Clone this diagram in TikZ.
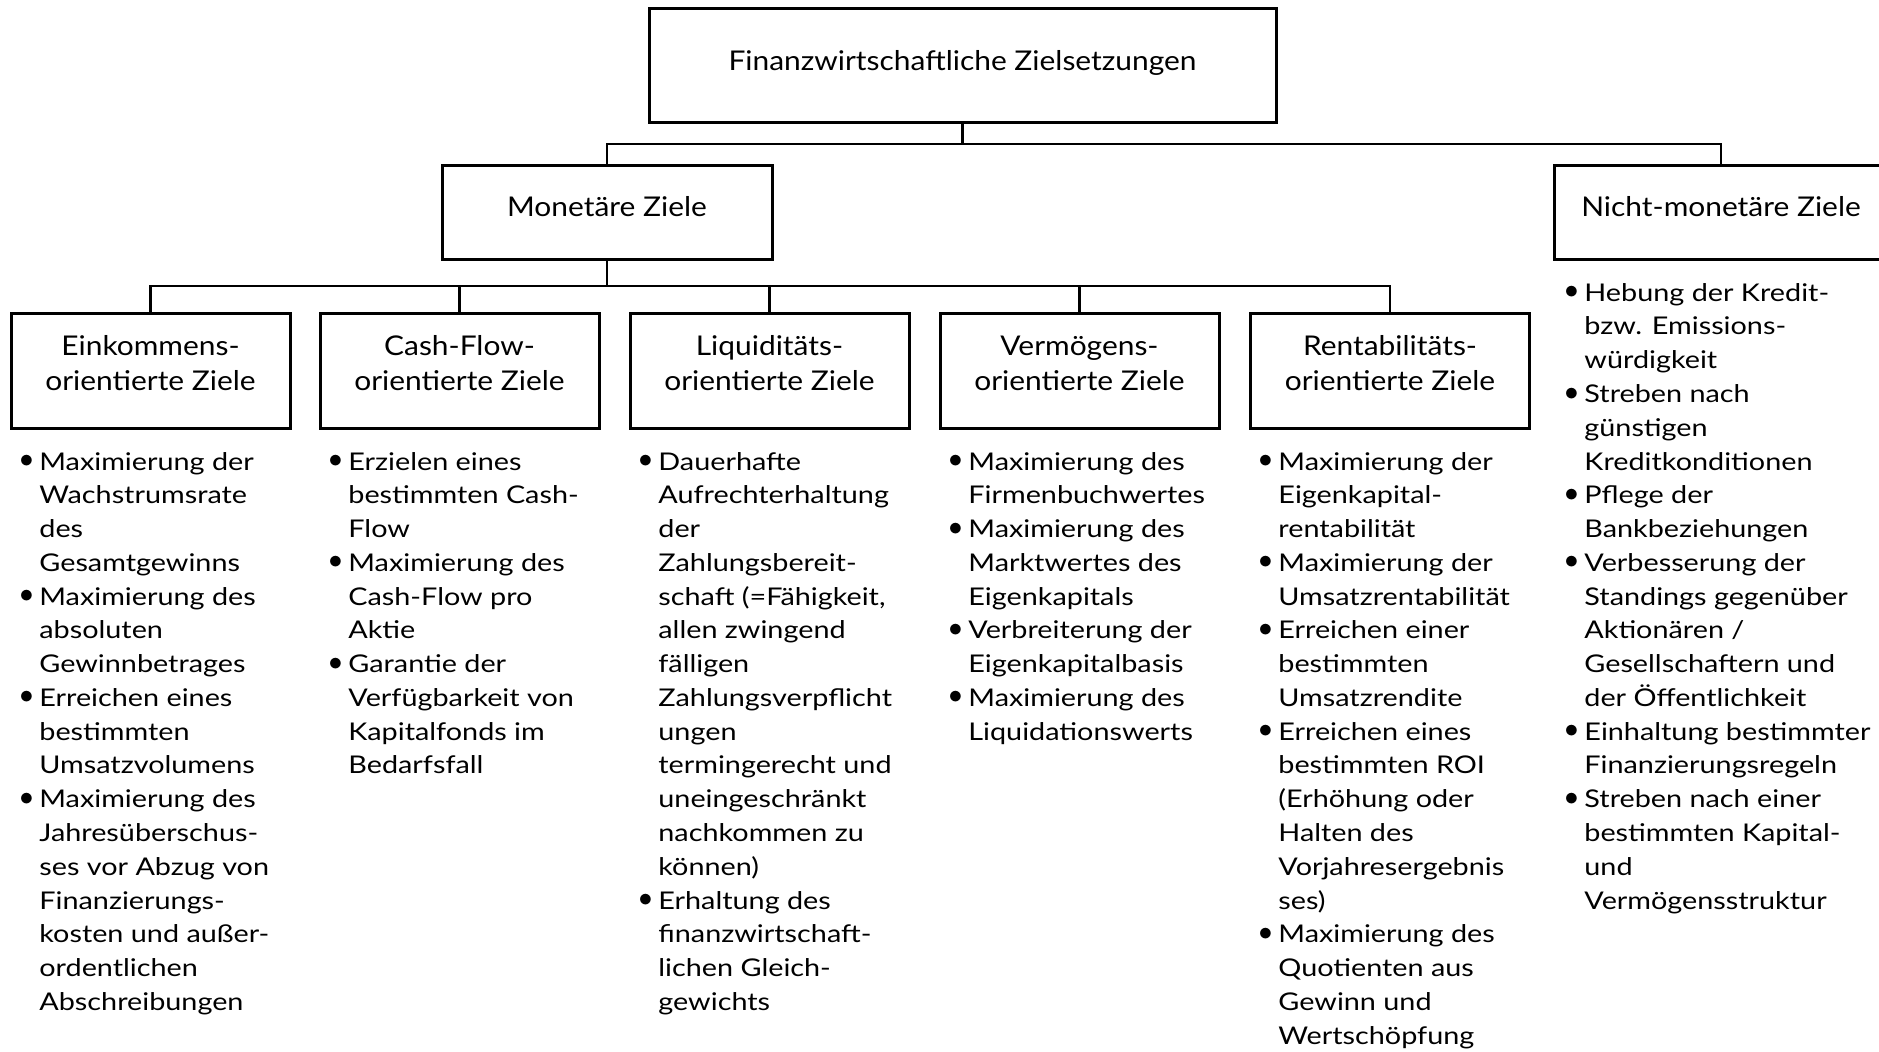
\documentclass[tikz,border=0pt]{standalone}
\usepackage{fontspec}
\setmainfont{Lato}[FakeStretch=1.18]
\newfontfamily\headfont{Lato}[FakeStretch=1.10]
% bullet hanging to the left of a list line
\newcommand\bl{\llap{\makebox[13pt][c]{\raisebox{0.2ex}{\scalebox{1.15}{$\bullet$}}}}}
% stacked lines, baseline of the node = baseline of the first line
\newcommand\leftlines[1]{\vtop{\baselineskip=16.885pt\lineskiplimit=-30pt\halign{##\hfil\cr#1\crcr}}}
\newcommand\ctrlines[1]{\vtop{\baselineskip=17.5pt\lineskiplimit=-30pt\halign{\hfil##\hfil\cr#1\crcr}}}
\begin{document}
\begin{tikzpicture}[x=0.5pt,y=-0.5pt,
  box/.style={draw=black, line width=1.5pt, inner sep=0pt},
  conn/.style={draw=black, line width=1.4pt},
  head/.style={anchor=base, inner sep=0pt, font=\headfont\fontsize{13.6pt}{17.5pt}\selectfont},
  list/.style={anchor=base west, inner sep=0pt, font=\fontsize{12.2pt}{16.885pt}\selectfont},
  goal/.style={box, minimum width=139.5pt, minimum height=57.5pt}]
\useasboundingbox (0,0) rectangle (1879,1051);
\clip (0,0) rectangle (1879,1051);

% top level
\node[box, minimum width=313.5pt, minimum height=57pt] (top) at (962.5,65) {};
\node[head] (toptxt) at (962.5,70) {Finanzwirtschaftliche Zielsetzungen};

% second level
\node[box, minimum width=165pt, minimum height=47pt] (mon) at (607,212) {};
\node[head] (montxt) at (607,216) {Monetäre Ziele};
\node[box, minimum width=167pt, minimum height=47pt] (nicht) at (1721,212) {};
\node[head] (nichttxt) at (1721,216) {Nicht-monetäre Ziele};

% third level
\node[goal] (g1) at (150.5,370.5) {};
\node[goal] (g2) at (459.5,370.5) {};
\node[goal] (g3) at (769.5,370.5) {};
\node[goal] (g4) at (1079.5,370.5) {};
\node[goal] (g5) at (1390,370.5) {};
\node[head] (g1t) at (150.5,355) {\ctrlines{Einkommens-\cr orientierte Ziele}};
\node[head] (g2t) at (459.5,355) {\ctrlines{Cash-Flow-\cr orientierte Ziele}};
\node[head] (g3t) at (769.5,355) {\ctrlines{Liquiditäts-\cr orientierte Ziele}};
\node[head] (g4t) at (1079.5,355) {\ctrlines{Vermögens-\cr orientierte Ziele}};
\node[head] (g5t) at (1390,355) {\ctrlines{Rentabilitäts-\cr orientierte Ziele}};

% connectors
\coordinate (j1) at (962.5,144);
\coordinate (j2) at (607,286);
\draw[conn] (top.south) -- (j1);
\draw[conn] (mon.north) |- (j1) -| (nicht.north);
\draw[conn] (mon.south) -- (j2);
\draw[conn] (g1.north) |- (j2) -| (g5.north);
\draw[conn] (g2.north) -- (g2.north |- j2);
\draw[conn] (g3.north) -- (g3.north |- j2);
\draw[conn] (g4.north) -- (g4.north |- j2);

% lists
\node[list] (l1) at (39,470) {\leftlines{%
\bl Maximierung der\cr Wachstrumsrate\cr des\cr Gesamtgewinns\cr
\bl Maximierung des\cr absoluten\cr Gewinnbetrages\cr
\bl Erreichen eines\cr bestimmten\cr Umsatzvolumens\cr
\bl Maximierung des\cr Jahresüberschus-\cr ses vor Abzug von\cr Finanzierungs-\cr kosten und außer-\cr ordentlichen\cr Abschreibungen}};

\node[list] (l2) at (348,470) {\leftlines{%
\bl Erzielen eines\cr bestimmten Cash-\cr Flow\cr
\bl Maximierung des\cr Cash-Flow pro\cr Aktie\cr
\bl Garantie der\cr Verfügbarkeit von\cr Kapitalfonds im\cr Bedarfsfall}};

\node[list] (l3) at (658,470) {\leftlines{%
\bl Dauerhafte\cr Aufrechterhaltung\cr der\cr Zahlungsbereit-\cr schaft (=Fähigkeit,\cr allen zwingend\cr fälligen\cr Zahlungsverpflicht\cr ungen\cr termingerecht und\cr uneingeschränkt\cr nachkommen zu\cr können)\cr
\bl Erhaltung des\cr finanzwirtschaft-\cr lichen Gleich-\cr gewichts}};

\node[list] (l4) at (968,470) {\leftlines{%
\bl Maximierung des\cr Firmenbuchwertes\cr
\bl Maximierung des\cr Marktwertes des\cr Eigenkapitals\cr
\bl Verbreiterung der\cr Eigenkapitalbasis\cr
\bl Maximierung des\cr Liquidationswerts}};

\node[list] (l5) at (1278,470) {\leftlines{%
\bl Maximierung der\cr Eigenkapital-\cr rentabilität\cr
\bl Maximierung der\cr Umsatzrentabilität\cr
\bl Erreichen einer\cr bestimmten\cr Umsatzrendite\cr
\bl Erreichen eines\cr bestimmten ROI\cr (Erhöhung oder\cr Halten des\cr Vorjahresergebnis\cr ses)\cr
\bl Maximierung des\cr Quotienten aus\cr Gewinn und\cr Wertschöpfung}};

\node[list] (l6) at (1584,301.2) {\leftlines{%
\bl Hebung der Kredit-\cr bzw. Emissions-\cr würdigkeit\cr
\bl Streben nach\cr günstigen\cr Kreditkonditionen\cr
\bl Pflege der\cr Bankbeziehungen\cr
\bl Verbesserung der\cr Standings gegenüber\cr Aktionären /\cr Gesellschaftern und\cr der Öffentlichkeit\cr
\bl Einhaltung bestimmter\cr Finanzierungsregeln\cr
\bl Streben nach einer\cr bestimmten Kapital-\cr und\cr Vermögensstruktur}};
\end{tikzpicture}
\end{document}
